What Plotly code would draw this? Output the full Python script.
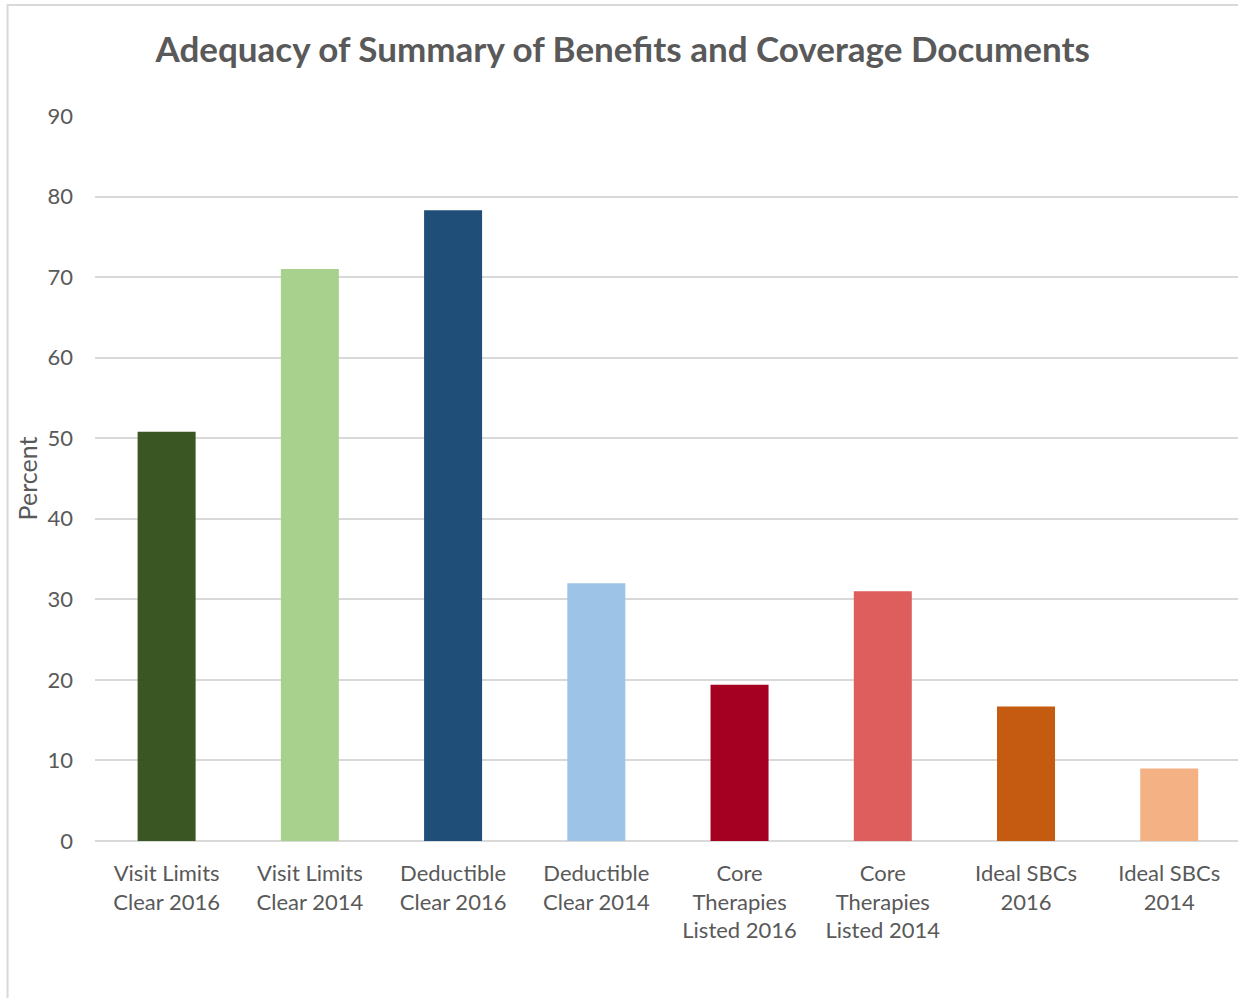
import plotly.graph_objects as go

categories = [
    "Visit Limits<br>Clear 2016",
    "Visit Limits<br>Clear 2014",
    "Deductible<br>Clear 2016",
    "Deductible<br>Clear 2014",
    "Core<br>Therapies<br>Listed 2016",
    "Core<br>Therapies<br>Listed 2014",
    "Ideal SBCs<br>2016",
    "Ideal SBCs<br>2014",
]
percent = [50.8, 71.0, 78.3, 32.0, 19.4, 31.0, 16.7, 9.0]
bar_colors = [
    "#3A5623", "#A9D18E", "#1F4E79", "#9DC3E6",
    "#A50021", "#DE5D5D", "#C55A11", "#F4B183",
]
y_ticks = [0, 10, 20, 30, 40, 50, 60, 70, 80, 90]

FONT = "Lato"
GREY = "#595959"

fig = go.Figure(
    go.Bar(
        x=list(range(len(categories))),
        y=percent,
        marker=dict(color=bar_colors, line=dict(width=0)),
        width=0.405,
    )
)

fig.update_layout(
    width=1238,
    height=998,
    paper_bgcolor="white",
    plot_bgcolor="white",
    showlegend=False,
    margin=dict(l=94.5, r=0, t=115.5, b=156.7),
    font=dict(family=FONT, color=GREY, size=22),
    title=dict(
        text="<b>Adequacy of Summary of Benefits and Coverage Documents</b>",
        x=0.503,
        xanchor="center",
        y=0.95,
        yanchor="middle",
        font=dict(family=FONT, size=35, color=GREY),
    ),
    shapes=[
        dict(
            type="rect", xref="paper", yref="paper",
            x0=-0.0765, x1=1.05, y0=-0.3, y1=1.153,
            line=dict(color="#D9D9D9", width=2),
            layer="below",
        )
    ],
)

fig.update_xaxes(
    tickmode="array",
    tickvals=list(range(len(categories))),
    ticktext=categories,
    range=[-0.5, 7.48],
    showgrid=False,
    showline=False,
    ticks="",
    ticklabelstandoff=17,
    tickfont=dict(family=FONT, size=22, color=GREY),
)
fig.update_yaxes(
    range=[0, 90],
    tickmode="array",
    tickvals=y_ticks,
    showgrid=True,
    gridcolor="#D9D9D9",
    gridwidth=1.5,
    zeroline=True,
    zerolinecolor="#D9D9D9",
    zerolinewidth=1.5,
    showline=False,
    ticks="",
    ticklabelstandoff=21,
    tickfont=dict(family=FONT, size=22, color=GREY),
    title=dict(text="Percent", standoff=2, font=dict(family=FONT, size=25, color=GREY)),
)

fig.write_html("out.html")
